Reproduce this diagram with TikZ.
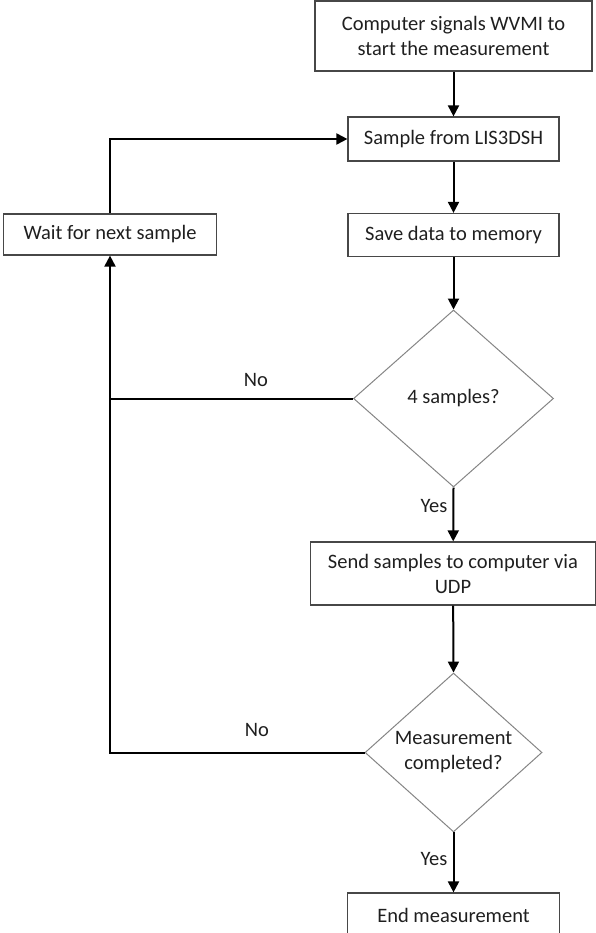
\documentclass[tikz,border=0pt]{standalone}
\usepackage{fontspec}
\setmainfont{Carlito}
\usetikzlibrary{shapes.geometric,arrows.meta}
\begin{document}
\begin{tikzpicture}[x=1pt,y=-1pt,
  font=\fontsize{20.5}{25}\selectfont,
  procbox/.style={draw=black!72,line width=1.2pt,rectangle,inner sep=0pt,align=center,text=black!88},
  decbox/.style={draw=black!48,line width=1pt,diamond,inner sep=0pt,align=center,text=black!88},
  conn/.style={line width=2pt,black},
  arr/.style={conn,-{Triangle[length=11pt,width=11pt]}},
  lbl/.style={inner sep=0pt,text=black!88}]
\useasboundingbox (0,0) rectangle (596,933);
\clip (0,0) rectangle (596,933);
\node[procbox,minimum width=277pt,minimum height=70pt] (start) at (453.5,36) {Computer signals WVMI to\\start the measurement};
\node[procbox,minimum width=211pt,minimum height=44pt] (sample) at (453.5,139) {Sample from LIS3DSH};
\node[procbox,minimum width=211pt,minimum height=43pt] (save) at (453.5,235) {Save data to memory};
\node[procbox,minimum width=213pt,minimum height=41pt] (wait) at (110,234.5) {Wait for next sample};
\node[decbox,minimum width=200pt,minimum height=177pt] (d1) at (453.5,398.5) {4 samples?};
\node[procbox,minimum width=285pt,minimum height=63pt] (send) at (453,573.5) {Send samples to computer via\\UDP};
\node[decbox,minimum width=177pt,minimum height=151pt] (d2) at (453.5,752.5) {Measurement\\completed?};
\node[procbox,minimum width=212pt,minimum height=44pt] (end) at (453.5,915) {End measurement};
\node[lbl] (no1) at (256,380) {No};
\node[lbl] (no2) at (257,730) {No};
\node[lbl] (yes1) at (434,506) {Yes};
\node[lbl] (yes2) at (434,859) {Yes};
\draw[arr] (start) -- (sample);
\draw[arr] (sample) -- (save);
\draw[arr] (save) -- (d1.north);
\draw[arr] (d1.south) -- (send);
\draw[arr] (send) -- (d2.north);
\draw[arr] (d2.south) -- (end);
\draw[conn] (d1.west) -- (d1.west -| wait.south);
\draw[arr] (d2.west) -| (wait.south);
\draw[arr] (wait.north) |- (sample.west);
\end{tikzpicture}
\end{document}
